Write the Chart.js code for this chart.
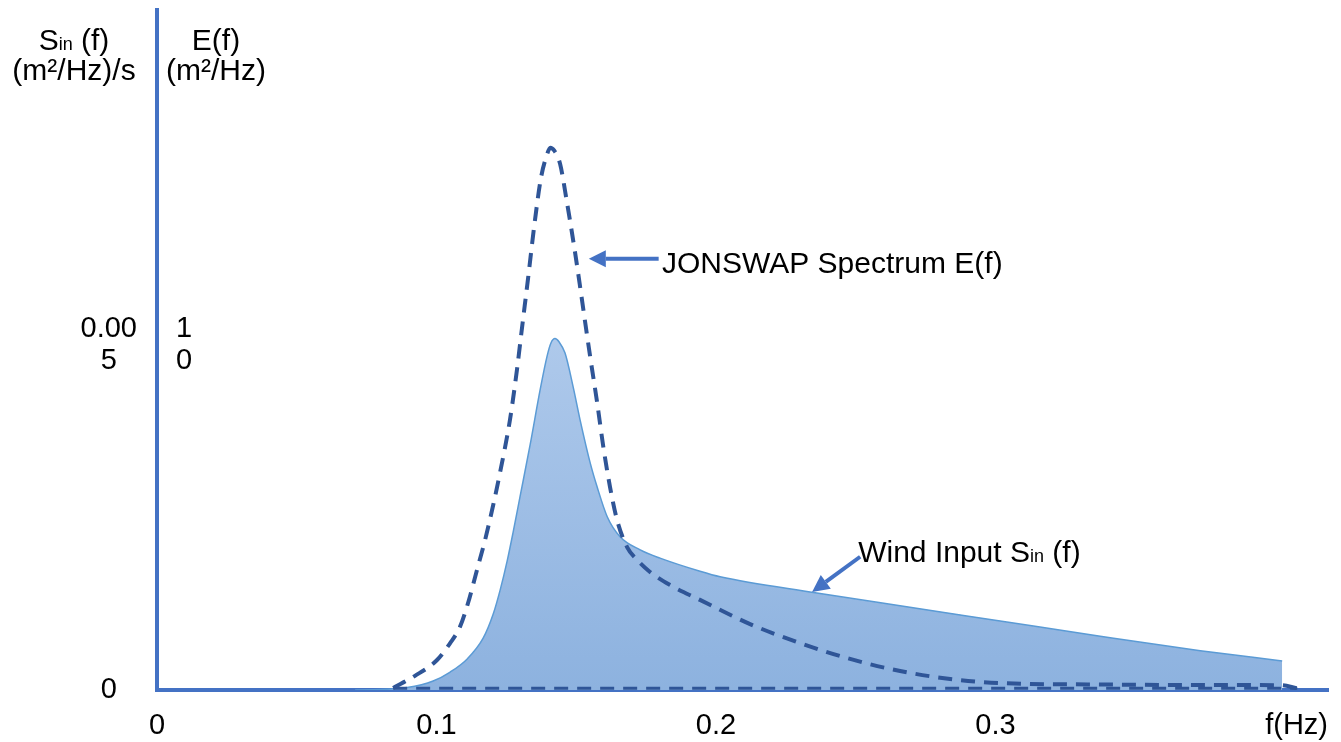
<!DOCTYPE html>
<html>
<head>
<meta charset="utf-8">
<script src="https://cdn.jsdelivr.net/npm/chart.js@4"></script>
<style>
  html, body { margin: 0; padding: 0; background: #fff; }
  canvas { display: block; }
</style>
</head>
<body>
<canvas id="espectro" width="1341" height="742"></canvas>
<script>
// JONSWAP spectrum E(f), m2/Hz
freqE = [0.0845, 0.0923, 0.1002, 0.1049, 0.1084, 0.1113, 0.1145, 0.1174, 0.1203, 0.1228,
         0.1263, 0.1288, 0.1306, 0.1328, 0.1349, 0.1374, 0.1396, 0.1407, 0.1421, 0.1442,
         0.1467, 0.1496, 0.1518, 0.1536, 0.1550, 0.1575, 0.1596, 0.1621, 0.1646, 0.1682,
         0.1718, 0.1764, 0.1836, 0.1943, 0.2122, 0.2301, 0.2480, 0.2659, 0.2838, 0.3017,
         0.3375, 0.3733, 0.4019, 0.4080]
energiaE = [0.06, 0.41, 0.87, 1.36, 1.83, 2.52, 3.48, 4.35, 5.36, 6.32,
            7.83, 9.28, 10.49, 11.94, 13.39, 14.84, 15.52, 15.71, 15.63, 15.25,
            14.12, 12.67, 11.45, 10.43, 9.65, 8.32, 7.10, 5.88, 4.93, 4.14,
            3.77, 3.42, 3.04, 2.61, 1.91, 1.36, 0.90, 0.55, 0.32, 0.20,
            0.16, 0.145, 0.14, 0.05]
// closing baseline of the dashed spectrum
freqBase = [0.0845, 0.4080]
energiaBase = [0.05, 0.05]

// wind input Sin(f), (m2/Hz)/s
freqSin = [0.0709, 0.0798, 0.0895, 0.0988, 0.1049, 0.1110, 0.1167, 0.1203, 0.1228, 0.1253,
           0.1274, 0.1299, 0.1335, 0.1371, 0.1396, 0.1410, 0.1424, 0.1439, 0.1460, 0.1489,
           0.1514, 0.1550, 0.1575, 0.1611, 0.1657, 0.1729, 0.1800, 0.1943, 0.2015, 0.2355,
           0.2659, 0.3017, 0.3375, 0.3733, 0.4026]
viento = [0, 0.000007, 0.000035, 0.00013, 0.00026, 0.00045, 0.00075, 0.00110, 0.00145, 0.00187,
          0.00228, 0.00280, 0.00355, 0.00435, 0.00484, 0.00503, 0.00509, 0.00504, 0.00488, 0.00439,
          0.00391, 0.00329, 0.00294, 0.00251, 0.00222, 0.00203, 0.00191, 0.00172, 0.00164, 0.00141,
          0.00122, 0.00100, 0.00078, 0.00057, 0.00042]

// ticks
ticksX = [0, 0.1, 0.2, 0.3]
ticksSin = [0, 0.005]
textoSin = ['0', ['0.00', '5']]
ticksE = [10]
textoE = [['1', '0']]

maxX = 0.419
maxE = 19.7
maxSin = maxE * 0.0005   // 10 m2/Hz lines up with 0.005 (m2/Hz)/s

fuente = '"Liberation Sans", Arial, Helvetica, sans-serif'
azulEje = '#4472c4'

function puntos(xs, ys) {
  return xs.map(function (v, i) { return {x: v, y: ys[i]}; });
}

function flecha(ctx, x1, y1, x2, y2) {
  var ang = Math.atan2(y2 - y1, x2 - x1), largo = 17, ancho = 8.5;
  var bx = x2 - largo * Math.cos(ang), by = y2 - largo * Math.sin(ang);
  ctx.strokeStyle = azulEje; ctx.fillStyle = azulEje; ctx.lineWidth = 4;
  ctx.beginPath(); ctx.moveTo(x1, y1); ctx.lineTo(bx, by); ctx.stroke();
  ctx.beginPath();
  ctx.moveTo(x2, y2);
  ctx.lineTo(bx + ancho * Math.sin(ang), by - ancho * Math.cos(ang));
  ctx.lineTo(bx - ancho * Math.sin(ang), by + ancho * Math.cos(ang));
  ctx.closePath(); ctx.fill();
}

// text with a small "in" after the first letter: S + in + rest
function textoSub(ctx, x, y, a, sub, b, size, centrado) {
  ctx.font = size + 'px ' + fuente; var wa = ctx.measureText(a).width, wb = ctx.measureText(b).width;
  ctx.font = Math.round(size * 0.6) + 'px ' + fuente; var ws = ctx.measureText(sub).width;
  var x0 = centrado ? x - (wa + ws + wb) / 2 : x;
  ctx.textAlign = 'left'; ctx.textBaseline = 'alphabetic'; ctx.fillStyle = '#000';
  ctx.font = size + 'px ' + fuente; ctx.fillText(a, x0, y);
  ctx.font = Math.round(size * 0.6) + 'px ' + fuente; ctx.fillText(sub, x0 + wa, y);
  ctx.font = size + 'px ' + fuente; ctx.fillText(b, x0 + wa + ws, y);
}

var rotulos = {
  id: 'rotulos',
  afterDraw: function (chart) {
    var ctx = chart.ctx, a = chart.chartArea, sx = chart.scales.x, sE = chart.scales.yE, sS = chart.scales.ySin;
    ctx.save();
    // axis titles
    textoSub(ctx, a.left - 83, a.top + 40, 'S', 'in', ' (f)', 30, true);
    ctx.font = '30px ' + fuente; ctx.textAlign = 'center'; ctx.textBaseline = 'alphabetic';
    ctx.fillText('(m\u00b2/Hz)/s', a.left - 83, a.top + 70);
    ctx.fillText('E(f)', a.left + 59, a.top + 40);
    ctx.fillText('(m\u00b2/Hz)', a.left + 59, a.top + 70);
    // x axis name at the end
    ctx.font = '29px ' + fuente; ctx.textAlign = 'right'; ctx.textBaseline = 'middle';
    ctx.fillText('f(Hz)', a.right, a.bottom + 19 + 17.4);
    // JONSWAP note
    flecha(ctx, sx.getPixelForValue(0.1795), sE.getPixelForValue(12.49),
                sx.getPixelForValue(0.1545), sE.getPixelForValue(12.49));
    ctx.font = '30px ' + fuente; ctx.textAlign = 'left'; ctx.textBaseline = 'alphabetic'; ctx.fillStyle = '#000';
    ctx.fillText('JONSWAP Spectrum E(f)', sx.getPixelForValue(0.1807), sE.getPixelForValue(12.09));
    // wind input note
    flecha(ctx, sx.getPixelForValue(0.2516), sS.getPixelForValue(0.00193),
                sx.getPixelForValue(0.2344), sS.getPixelForValue(0.00142));
    textoSub(ctx, sx.getPixelForValue(0.2509), sS.getPixelForValue(0.001855), 'Wind Input S', 'in', ' (f)', 30, false);
    ctx.restore();
  }
};

function relleno(context) {
  var chart = context.chart, a = chart.chartArea;
  if (!a) return '#9dbde6';
  var top = chart.scales.ySin.getPixelForValue(Math.max.apply(null, viento));
  var g = chart.ctx.createLinearGradient(0, top, 0, a.bottom);
  g.addColorStop(0, '#aec9eb');
  g.addColorStop(1, '#8db2df');
  return g;
}

new Chart(document.getElementById('espectro').getContext('2d'), {
  type: 'line',
  data: {
    datasets: [
      {label: 'JONSWAP Spectrum E(f)', data: puntos(freqE, energiaE), yAxisID: 'yE', order: 0,
       borderColor: '#2f5597', borderWidth: 4, borderDash: [14, 9], pointRadius: 0,
       fill: false, cubicInterpolationMode: 'monotone'},
      {label: 'base', data: puntos(freqBase, energiaBase), yAxisID: 'yE', order: 0,
       borderColor: '#2f5597', borderWidth: 3, borderDash: [14, 9], pointRadius: 0, fill: false},
      {label: 'Wind Input Sin(f)', data: puntos(freqSin, viento), yAxisID: 'ySin', order: 1,
       borderColor: '#5b9bd5', borderWidth: 1.5, backgroundColor: relleno, pointRadius: 0,
       fill: 'origin', cubicInterpolationMode: 'monotone'}
    ]
  },
  options: {
    responsive: false,
    animation: false,
    layout: {padding: {top: 10, right: 13, bottom: 0, left: 0}},
    plugins: {legend: {display: false}, tooltip: {enabled: false}},
    scales: {
      x: {
        type: 'linear', position: 'bottom', min: 0, max: maxX, z: 1,
        grid: {display: false, drawTicks: false},
        border: {display: true, color: azulEje, width: 4},
        ticks: {color: '#000', padding: 19, maxRotation: 0, autoSkip: false,
                font: {family: fuente, size: 29, lineHeight: 1.2},
                callback: function (v) { return v === 0 ? '0' : v.toFixed(1); }},
        afterBuildTicks: function (s) { s.ticks = ticksX.map(function (v) { return {value: v}; }); },
        afterFit: function (s) { s.height = 52; s.paddingLeft = 0; s.paddingRight = 0; }
      },
      yE: {
        type: 'linear', position: 'left', min: 0, max: maxE, weight: 0, z: 1,
        grid: {display: false, drawTicks: false},
        border: {display: true, color: azulEje, width: 4},
        ticks: {color: '#000', mirror: true, crossAlign: 'center', padding: 19,
                font: {family: fuente, size: 29, lineHeight: 1.1},
                callback: function (v, i) { return textoE[i]; }},
        afterBuildTicks: function (s) { s.ticks = ticksE.map(function (v) { return {value: v}; }); },
        afterFit: function (s) { s.width = 0; s.paddingTop = 0; s.paddingBottom = 0; }
      },
      ySin: {
        type: 'linear', position: 'left', min: 0, max: maxSin, weight: 1,
        grid: {display: false, drawTicks: false},
        border: {display: false},
        ticks: {color: '#000', crossAlign: 'center', padding: 20,
                font: {family: fuente, size: 29, lineHeight: 1.1},
                callback: function (v, i) { return textoSin[i]; }},
        afterBuildTicks: function (s) { s.ticks = ticksSin.map(function (v) { return {value: v}; }); },
        afterFit: function (s) { s.width = 157; s.paddingTop = 0; s.paddingBottom = 0; }
      }
    }
  },
  plugins: [rotulos]
});
</script>
</body>
</html>
